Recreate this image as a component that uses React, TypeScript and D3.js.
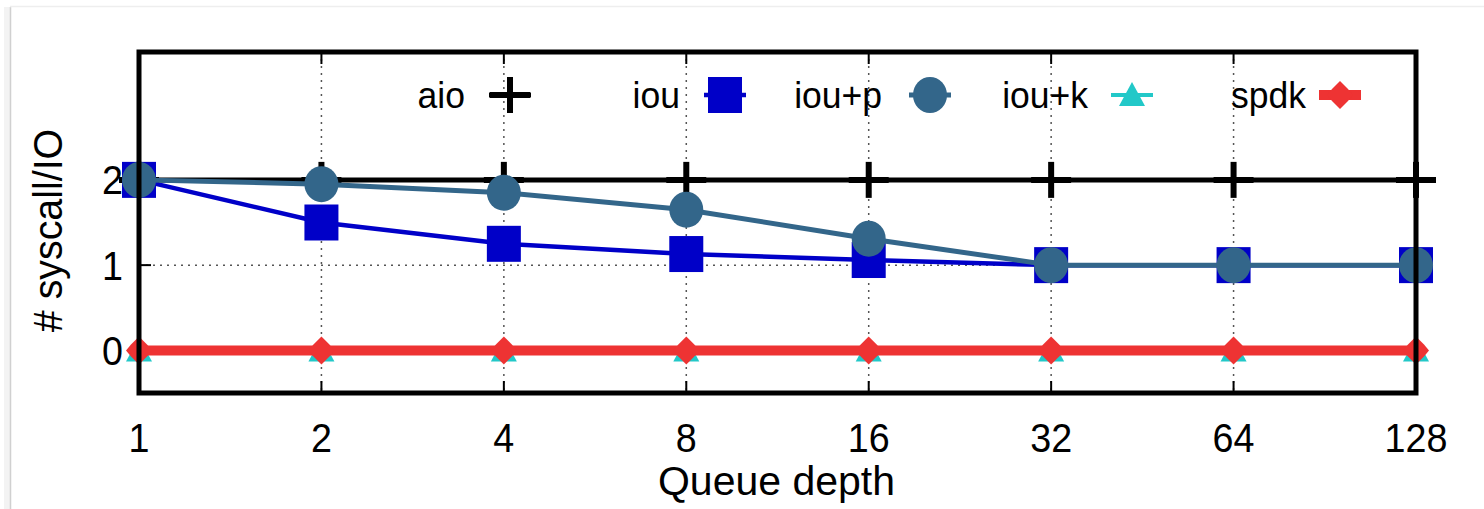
import React from "react";
import * as d3 from "d3";

const queueDepths = [1, 2, 4, 8, 16, 32, 64, 128];
const xTickLabels = ["1", "2", "4", "8", "16", "32", "64", "128"];
const yTicks = [0, 1, 2];
const aio = [2, 2, 2, 2, 2, 2, 2, 2];
const iou = [2, 1.5, 1.25, 1.13, 1.06, 1, 1, 1];
const iouP = [2, 1.95, 1.85, 1.65, 1.31, 1, 1, 1];
const iouK = [0, 0, 0, 0, 0, 0, 0, 0];
const spdk = [0, 0, 0, 0, 0, 0, 0, 0];
const seriesNames = ["aio", "iou", "iou+p", "iou+k", "spdk"];

const W = 1484;
const H = 509;
const L = 139, R = 1416, T = 52, B = 393;
const FONT = "'Liberation Sans', Arial, Helvetica, sans-serif";

const colors: Record<string, string> = {
  aio: "#000000",
  iou: "#0000c8",
  "iou+p": "#33668a",
  "iou+k": "#22c8c8",
  spdk: "#ee3333",
};
const widths: Record<string, number> = {
  aio: 5,
  iou: 4.5,
  "iou+p": 5,
  "iou+k": 4,
  spdk: 10,
};

function Txt({
  x,
  y,
  anchor,
  size,
  sx = 0.9,
  rotate,
  children,
}: {
  x: number;
  y: number;
  anchor: "start" | "middle" | "end";
  size: number;
  sx?: number;
  rotate?: boolean;
  children: React.ReactNode;
}) {
  const tf = rotate
    ? `translate(${x},${y}) rotate(-90) scale(${sx},1)`
    : `translate(${x},${y}) scale(${sx},1)`;
  return (
    <text
      transform={tf}
      x={0}
      y={0}
      textAnchor={anchor}
      dominantBaseline="central"
      fontFamily={FONT}
      fontSize={size}
      fill="#000"
    >
      {children}
    </text>
  );
}

function Marker({ name, x, y }: { name: string; x: number; y: number }) {
  const c = colors[name];
  if (name === "aio") {
    return (
      <g>
        <line x1={x - 20} x2={x + 20} y1={y} y2={y} stroke={c} strokeWidth={6} />
        <line x1={x} x2={x} y1={y - 18} y2={y + 18} stroke={c} strokeWidth={6} />
      </g>
    );
  }
  if (name === "iou") {
    return <rect x={x - 17} y={y - 18} width={34} height={36} fill={c} />;
  }
  if (name === "iou+p") {
    return <ellipse cx={x} cy={y} rx={17} ry={18} fill={c} />;
  }
  if (name === "iou+k") {
    return <path d={`M${x},${y - 13} L${x + 13},${y + 11} L${x - 13},${y + 11} Z`} fill={c} />;
  }
  return (
    <path
      d={`M${x},${y - 14} L${x + 8},${y - 6} L${x + 13},${y} L${x + 8},${y + 6} L${x},${y + 14} L${x - 8},${y + 6} L${x - 13},${y} L${x - 8},${y - 6} Z`}
      fill={c}
    />
  );
}

export default function App() {
  const x = d3.scaleLog().base(2).domain([1, 128]).range([L, R]);
  const y = d3.scaleLinear().domain([-0.5, 3.5]).range([B, T]);
  const line = d3
    .line<number>()
    .x((_, i) => x(queueDepths[i]))
    .y((d) => y(d));

  const data: Record<string, number[]> = {
    aio,
    iou,
    "iou+p": iouP,
    "iou+k": iouK,
    spdk,
  };

  const legendTextRight = [465, 680, 882, 1088, 1306];
  const legendMarkerX = [510, 725, 930, 1132, 1340];
  const legendY = 95;

  return (
    <div style={{ position: "absolute", left: 0, top: 0 }}>
      <svg width={W} height={H} style={{ display: "block" }}>
        <rect x={0} y={0} width={W} height={H} fill="#ffffff" />
        <rect x={4} y={7} width={6} height={H} fill="#f3f3f3" />
        <line x1={10.5} x2={10.5} y1={7} y2={H} stroke="#d0d0d0" strokeWidth={1.5} />
        <line x1={10} x2={W} y1={6.5} y2={6.5} stroke="#eeeeee" strokeWidth={1.5} />

        {queueDepths.map((q, i) => (
          <line
            key={"gx" + i}
            x1={x(q)}
            x2={x(q)}
            y1={T}
            y2={B}
            stroke="#555"
            strokeWidth={1.5}
            strokeDasharray="2,5"
          />
        ))}
        {yTicks.map((t, i) => (
          <line
            key={"gy" + i}
            x1={L}
            x2={R}
            y1={y(t)}
            y2={y(t)}
            stroke="#555"
            strokeWidth={1.5}
            strokeDasharray="2,5"
          />
        ))}

        {queueDepths.map((q, i) => (
          <g key={"tx" + i}>
            <line x1={x(q)} x2={x(q)} y1={B} y2={B - 12} stroke="#000" strokeWidth={2} />
            <line x1={x(q)} x2={x(q)} y1={T} y2={T + 12} stroke="#000" strokeWidth={2} />
          </g>
        ))}
        {yTicks.map((t, i) => (
          <g key={"ty" + i}>
            <line x1={L} x2={L + 12} y1={y(t)} y2={y(t)} stroke="#000" strokeWidth={2} />
            <line x1={R} x2={R - 12} y1={y(t)} y2={y(t)} stroke="#000" strokeWidth={2} />
          </g>
        ))}

        {seriesNames.map((n, i) => (
          <g key={"lg" + n}>
            <Txt x={legendTextRight[i]} y={legendY} anchor="end" size={37} sx={0.96}>
              {n}
            </Txt>
            <line
              x1={legendMarkerX[i] - 21}
              x2={legendMarkerX[i] + 21}
              y1={legendY}
              y2={legendY}
              stroke={colors[n]}
              strokeWidth={widths[n]}
            />
            <Marker name={n} x={legendMarkerX[i]} y={legendY} />
          </g>
        ))}

        {seriesNames.map((n) => (
          <g key={"s" + n}>
            <path
              d={line(data[n]) || ""}
              fill="none"
              stroke={colors[n]}
              strokeWidth={widths[n]}
              strokeLinejoin="round"
            />
            {data[n].map((v, i) => (
              <Marker key={i} name={n} x={x(queueDepths[i])} y={y(v)} />
            ))}
          </g>
        ))}

        <rect x={L} y={T} width={R - L} height={B - T} fill="none" stroke="#000" strokeWidth={5} />

        {queueDepths.map((q, i) => (
          <Txt key={"xl" + i} x={x(q)} y={437} anchor="middle" size={41} sx={0.92}>
            {xTickLabels[i]}
          </Txt>
        ))}
        {yTicks.map((t, i) => (
          <Txt key={"yl" + i} x={123} y={y(t)} anchor="end" size={41} sx={0.92}>
            {String(t)}
          </Txt>
        ))}

        <Txt x={(L + R) / 2 - 1} y={481} anchor="middle" size={41} sx={1.0}>
          Queue depth
        </Txt>
        <Txt x={48} y={(T + B) / 2 + 8} anchor="middle" size={41} sx={0.96} rotate>
          # syscall/IO
        </Txt>
      </svg>
    </div>
  );
}
